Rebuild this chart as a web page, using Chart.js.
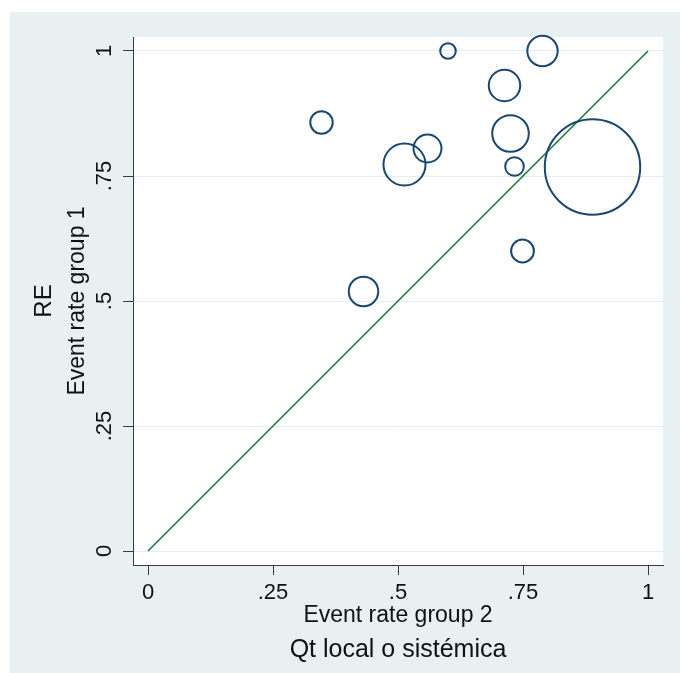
<!DOCTYPE html>
<html>
<head>
<meta charset="utf-8">
<script src="https://cdn.jsdelivr.net/npm/chart.js@4/dist/chart.umd.min.js"></script>
<style>
  html, body { margin: 0; padding: 0; background: #ffffff; }
  #wrap { width: 680px; height: 673px; }
</style>
</head>
<body>
<div id="wrap"><canvas id="labbe" width="680" height="673"></canvas></div>
<script>
// event rates, one entry per study
const studyX = [0.600, 0.789, 0.713, 0.347, 0.725, 0.559, 0.513, 0.733, 0.889, 0.749, 0.431];
const studyY = [1.000, 1.000, 0.931, 0.857, 0.835, 0.805, 0.773, 0.769, 0.768, 0.600, 0.519];
// study weights (%), bubble area is proportional
const studyWeight = [1.4, 5.3, 5.7, 2.9, 7.7, 4.5, 10.2, 2.0, 52.4, 3.0, 5.0];

// line of no effect
const refX = [0, 1];
const refY = [0, 1];

const xTicks = [0, 0.25, 0.5, 0.75, 1];
const yTicks = [0, 0.25, 0.5, 0.75, 1];
const xTickLabels = ['0', '.25', '.5', '.75', '1'];
const yTickLabels = ['0', '.25', '.5', '.75', '1'];

const xTitle = 'Event rate group 2';
const yTitle = 'Event rate group 1';
const leftTitle = 'RE';
const bottomTitle = 'Qt local o sistémica';

const FONT = "'Liberation Sans', Arial, sans-serif";
const BG = '#e8f0f2';
const TEXT = '#111111';
const AXIS = '#3a3a3a';

const frame = {
  id: 'stataFrame',
  beforeDraw(chart) {
    const { ctx, chartArea: a } = chart;
    ctx.save();
    ctx.fillStyle = '#ffffff';
    ctx.fillRect(0, 0, chart.width, chart.height);
    ctx.fillStyle = BG;
    ctx.fillRect(10, 12, chart.width - 10, chart.height - 12);
    ctx.fillStyle = '#ffffff';
    ctx.fillRect(a.left, a.top, a.right - a.left, a.bottom - a.top);
    ctx.restore();
  },
  afterDraw(chart) {
    const { ctx, scales } = chart;
    const xs = scales.x, ys = scales.y;
    ctx.save();
    ctx.fillStyle = TEXT;
    ctx.textAlign = 'center';
    ctx.textBaseline = 'middle';

    // x tick labels
    ctx.font = `22px ${FONT}`;
    xTicks.forEach((v, i) => {
      ctx.fillText(xTickLabels[i], xs.getPixelForValue(v), 593);
    });

    // y tick labels (vertical, Stata style)
    yTicks.forEach((v, i) => {
      ctx.save();
      ctx.translate(105, ys.getPixelForValue(v));
      ctx.rotate(-Math.PI / 2);
      ctx.fillText(yTickLabels[i], 0, 0);
      ctx.restore();
    });

    const midX = xs.getPixelForValue(0.5);
    const midY = ys.getPixelForValue(0.5);

    ctx.font = `23px ${FONT}`;
    ctx.fillText(xTitle, midX, 616);

    ctx.save();
    ctx.translate(78, midY);
    ctx.rotate(-Math.PI / 2);
    ctx.fillText(yTitle, 0, 0);
    ctx.restore();

    ctx.font = `24px ${FONT}`;
    ctx.save();
    ctx.translate(44, midY);
    ctx.rotate(-Math.PI / 2);
    ctx.fillText(leftTitle, 0, 0);
    ctx.restore();

    ctx.font = `25px ${FONT}`;
    ctx.fillText(bottomTitle, midX, 650);
    ctx.restore();
  }
};

const bubbles = studyX.map((x, i) => ({
  x: x,
  y: studyY[i],
  r: 6.59 * Math.sqrt(studyWeight[i])
}));
const refLine = refX.map((x, i) => ({ x: x, y: refY[i] }));

new Chart(document.getElementById('labbe').getContext('2d'), {
  type: 'bubble',
  data: {
    datasets: [
      {
        label: 'Studies',
        data: bubbles,
        backgroundColor: 'rgba(0,0,0,0)',
        borderColor: '#1a476f',
        borderWidth: 2,
        clip: false
      },
      {
        type: 'line',
        label: 'No effect',
        data: refLine,
        borderColor: '#1d7a3a',
        borderWidth: 1.6,
        pointRadius: 0,
        fill: false
      }
    ]
  },
  options: {
    responsive: false,
    animation: false,
    devicePixelRatio: 1,
    layout: { autoPadding: false, padding: { top: 37, right: 17, left: 0, bottom: 0 } },
    plugins: {
      legend: { display: false },
      tooltip: { enabled: false }
    },
    scales: {
      x: {
        type: 'linear',
        min: -0.03,
        max: 1.03,
        afterBuildTicks: s => { s.ticks = xTicks.map(v => ({ value: v })); },
        afterFit: s => { s.height = 108; },
        ticks: { display: false },
        grid: {
          drawOnChartArea: false,
          drawTicks: true,
          tickLength: 10,
          tickColor: AXIS,
          tickWidth: 1
        },
        border: { display: true, color: AXIS, width: 1 }
      },
      y: {
        type: 'linear',
        min: -0.028,
        max: 1.028,
        afterBuildTicks: s => { s.ticks = yTicks.map(v => ({ value: v })); },
        afterFit: s => { s.width = 133; },
        ticks: { display: false },
        grid: {
          color: '#e4edf0',
          lineWidth: 1,
          drawTicks: true,
          tickLength: 10,
          tickColor: AXIS,
          tickWidth: 1
        },
        border: { display: true, color: AXIS, width: 1 }
      }
    }
  },
  plugins: [frame]
});
</script>
</body>
</html>
